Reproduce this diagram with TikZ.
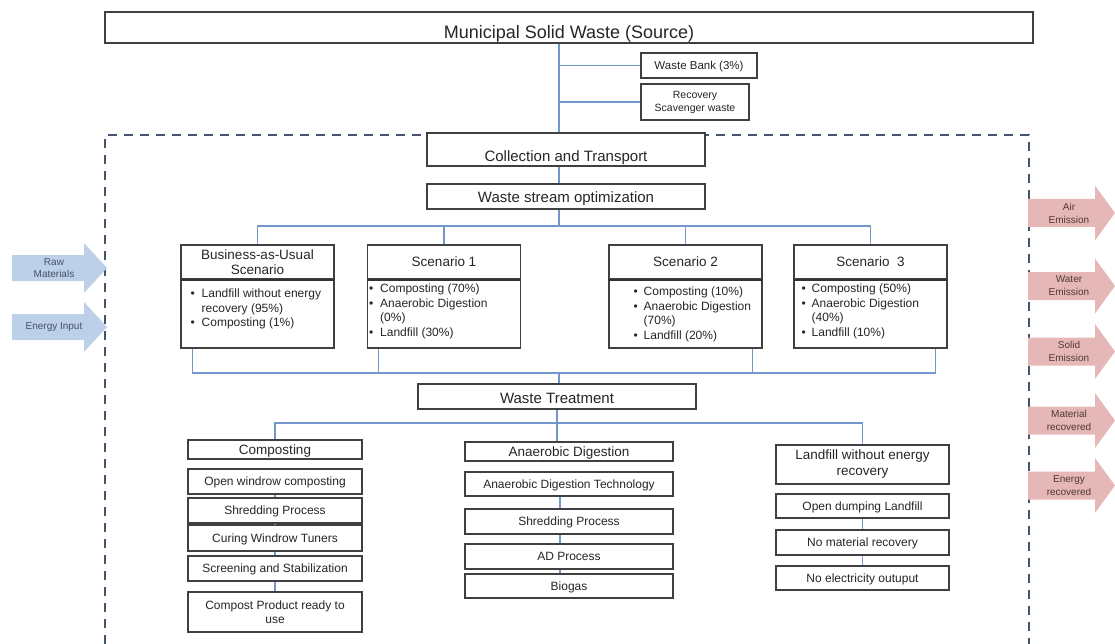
\documentclass[tikz,border=0pt]{standalone}
\usepackage{fontspec}
\setmainfont{Liberation Sans}

\definecolor{boxgray}{RGB}{64,64,64}
\definecolor{linkblue}{RGB}{115,150,205}
\definecolor{dashblue}{RGB}{68,84,106}
\definecolor{inblue}{RGB}{189,208,233}
\definecolor{outpink}{RGB}{229,184,183}
\definecolor{intext}{RGB}{70,80,100}
\definecolor{outtext}{RGB}{80,55,55}

\newcommand{\fsz}[2]{\fontsize{#1}{#2}\selectfont}

\begin{document}
\begin{tikzpicture}[x=1pt, y=-1pt,
    box/.style={draw=boxgray, line width=1.2pt, fill=white, align=center, inner sep=1pt, text=black!85},
    oneline/.style={text depth=0pt},
    subbox/.style={box, oneline, font=\fsz{12}{14}},
    headbox/.style={box, font=\fsz{13.5}{16}},
    scnbox/.style={box, line width=1.4pt, minimum width=153pt},
    lst/.style={inner sep=0pt, anchor=north west, font=\fsz{12}{14.5}, text=black!85},
    link/.style={draw=linkblue, line width=1.2pt},
    dashbox/.style={draw=dashblue, line width=2.2pt, dash pattern=on 9pt off 7pt},
    inlbl/.style={font=\fsz{10}{12}, text=intext, align=center},
    outlbl/.style={font=\fsz{10}{13}, text=outtext, align=center}]

    \useasboundingbox (0,0) rectangle (1115,644);

    % System boundary
    \draw[dashbox] (105,660) |- (1029,135) -- (1029,660);

    % Source and side streams
    \node[box, minimum width=928pt, minimum height=31pt, text height=22pt, oneline, font=\fsz{18}{20}] (src) at (569,27.5) {Municipal Solid Waste (Source)};
    \node[box, oneline, minimum width=116pt, minimum height=25pt, font=\fsz{11.5}{13}] (bank) at (699,65.5) {Waste Bank (3\%)};
    \node[box, minimum width=108pt, minimum height=36pt, font=\fsz{10.5}{13}] (scav) at (695,102) {Recovery\\Scavenger waste};

    \node[box, minimum width=278pt, minimum height=33pt, text height=24pt, oneline, font=\fsz{15}{17}] (collect) at (566,149.5) {Collection and Transport};
    \node[box, minimum width=278pt, minimum height=25pt, text height=13pt, oneline, font=\fsz{15}{17}] (stream) at (566,196.5) {Waste stream optimization};

    % Scenarios
    \node[scnbox, minimum height=69pt] (bau-b) at (257.5,313.5) {};
    \node[scnbox, minimum height=34pt, font=\fsz{13.5}{15}] (bau-h) at (257.5,262) {Business-as-Usual\\Scenario};
    \node[scnbox, minimum height=69pt] (s1-b) at (444,313.5) {};
    \node[scnbox, oneline, minimum height=34pt, font=\fsz{13.5}{15}] (s1-h) at (444,262) {Scenario 1};
    \node[scnbox, minimum height=69pt] (s2-b) at (685.5,313.5) {};
    \node[scnbox, oneline, minimum height=34pt, font=\fsz{13.5}{15}] (s2-h) at (685.5,262) {Scenario 2};
    \node[scnbox, minimum height=69pt] (s3-b) at (870.5,313.5) {};
    \node[scnbox, oneline, minimum height=34pt, font=\fsz{13.5}{15}] (s3-h) at (870.5,262) {Scenario\ \ 3};
    \foreach \s in {bau,s1,s2,s3}
        \draw[line width=1.8pt, black!80] (\s-h.south west) -- (\s-h.south east);

    \node[lst] (bau-l) at ([xshift=10pt,yshift=-9pt]bau-b.north west) {\begin{tabular}{@{}l@{\hspace{7pt}}l@{}}
        \textbullet & Landfill without energy\\ & recovery (95\%)\\ \textbullet & Composting (1\%)\end{tabular}};
    \node[lst] (s1-l) at ([xshift=2pt,yshift=-4pt]s1-b.north west) {\begin{tabular}{@{}l@{\hspace{7pt}}l@{}}
        \textbullet & Composting (70\%)\\ \textbullet & Anaerobic Digestion\\ & (0\%)\\ \textbullet & Landfill (30\%)\end{tabular}};
    \node[lst] (s2-l) at ([xshift=25pt,yshift=-7pt]s2-b.north west) {\begin{tabular}{@{}l@{\hspace{6pt}}l@{}}
        \textbullet & Composting (10\%)\\ \textbullet & Anaerobic Digestion\\ & (70\%)\\ \textbullet & Landfill (20\%)\end{tabular}};
    \node[lst] (s3-l) at ([xshift=8pt,yshift=-4pt]s3-b.north west) {\begin{tabular}{@{}l@{\hspace{6pt}}l@{}}
        \textbullet & Composting (50\%)\\ \textbullet & Anaerobic Digestion\\ & (40\%)\\ \textbullet & Landfill (10\%)\end{tabular}};

    % Treatment
    \node[box, minimum width=278pt, minimum height=25pt, text height=13pt, oneline, font=\fsz{15}{17}] (wt) at (557,396.5) {Waste Treatment};

    \node[headbox, oneline, minimum width=174pt, minimum height=19pt] (comp) at (275,449.5) {Composting};
    \node[subbox, minimum width=174pt, minimum height=25pt] (c1) at (275,481.5) {Open windrow composting};
    \node[subbox, minimum width=174pt, minimum height=25pt] (c2) at (275,510.5) {Shredding Process};
    \node[subbox, minimum width=174pt, minimum height=26pt] (c3) at (275,538) {Curing Windrow Tuners};
    \node[subbox, minimum width=174pt, minimum height=25pt] (c4) at (275,568.5) {Screening and Stabilization};
    \node[box, font=\fsz{12}{14}, minimum width=174pt, minimum height=40pt] (c5) at (275,612) {Compost Product ready to\\use};

    \node[headbox, oneline, minimum width=208pt, minimum height=19pt] (ad) at (569,451.5) {Anaerobic Digestion};
    \node[subbox, minimum width=208pt, minimum height=24pt] (a1) at (569,484) {Anaerobic Digestion Technology};
    \node[subbox, minimum width=208pt, minimum height=25pt] (a2) at (569,521.5) {Shredding Process};
    \node[subbox, minimum width=208pt, minimum height=25pt] (a3) at (569,556.5) {AD Process};
    \node[subbox, minimum width=208pt, minimum height=24pt] (a4) at (569,586) {Biogas};

    \node[headbox, minimum width=173pt, minimum height=39pt] (lf) at (862.5,464.5) {Landfill without energy\\recovery};
    \node[subbox, minimum width=173pt, minimum height=24pt] (l1) at (862.5,506) {Open dumping Landfill};
    \node[subbox, minimum width=173pt, minimum height=25pt] (l2) at (862.5,542.5) {No material recovery};
    \node[subbox, minimum width=173pt, minimum height=24pt] (l3) at (862.5,578) {No electricity outuput};

    % Connectors
    \coordinate (spine) at (559,0);
    \draw[link] (src.south -| spine) -- (collect.north -| spine);
    \draw[link] (bank.west) -- (bank.west -| spine);
    \draw[link] (scav.west) -- (scav.west -| spine);
    \draw[link] (collect.south -| spine) -- (stream.north -| spine);

    \coordinate (topbus) at (559,226);
    \draw[link] (stream.south -| spine) -- (topbus);
    \draw[link] (bau-h.north) |- (topbus) -| (s3-h.north);
    \draw[link] (s1-h.north) -- (s1-h.north |- topbus);
    \draw[link] (s2-h.north) -- (s2-h.north |- topbus);

    \coordinate (botbus) at (559,373);
    \draw[link] ([xshift=12pt]bau-b.south west) |- (botbus) -| ([xshift=-12pt]s3-b.south east);
    \draw[link] ([xshift=12pt]s1-b.south west) -- ([xshift=12pt]s1-b.south west |- botbus);
    \draw[link] ([xshift=-10pt]s2-b.south east) -- ([xshift=-10pt]s2-b.south east |- botbus);
    \draw[link] (botbus) -- (wt.north -| botbus);

    \coordinate (trbus) at (557,423);
    \draw[link] (wt.south) -- (wt.south |- ad.north);
    \draw[link] (comp.north) |- (trbus) -| (lf.north);

    \foreach \a/\b in {c1/c2,c2/c3,c3/c4,c4/c5,l1/l2,l2/l3}
        \draw[link] (\a) -- (\b);
    \foreach \a/\b in {a1/a2,a2/a3,a3/a4}
        \draw[link] ([xshift=-9pt]\a.south) -- ([xshift=-9pt]\b.north);

    % Inputs
    \foreach \nm/\yc/\txt in {rawin/268/{Raw\\Materials}, enin/327/{Energy Input}} {
        \fill[inblue] (12,\yc-13) -- (84,\yc-13) -- (84,\yc-25) -- (107,\yc) -- (84,\yc+25) -- (84,\yc+13) -- (12,\yc+13) -- cycle;
        \node[inlbl] (\nm) at (54,\yc) {\txt};
    }

    % Outputs
    \foreach \nm/\yc/\txt in {air/213/{Air\\Emission}, water/286/{Water\\Emission}, solid/351.5/{Solid\\Emission},
                             matl/420.5/{Material\\recovered}, enrg/485.5/{Energy\\recovered}} {
        \fill[outpink] (1028,\yc-14) -- (1095,\yc-14) -- (1095,\yc-27.5) -- (1115,\yc) -- (1095,\yc+27.5) -- (1095,\yc+14) -- (1028,\yc+14) -- cycle;
        \node[outlbl] (\nm) at (1069,\yc) {\txt};
    }
\end{tikzpicture}
\end{document}
